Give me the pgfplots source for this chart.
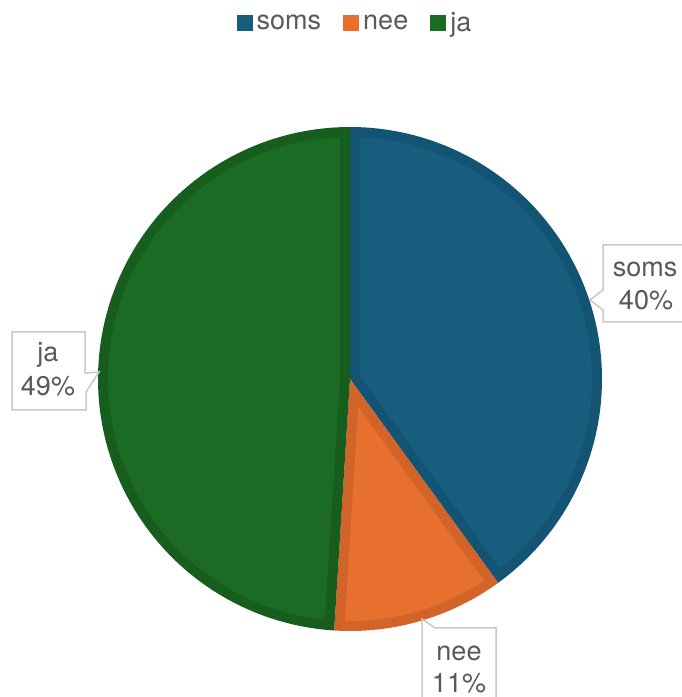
\documentclass[border=0pt]{standalone}
\usepackage{pgfplots}
\pgfplotsset{compat=1.18}
\usepackage{fontspec}
\setmainfont{TeX Gyre Heros}

\definecolor{somsC}{HTML}{175E7E}
\definecolor{somsB}{HTML}{135374}
\definecolor{neeC}{HTML}{E8702F}
\definecolor{neeB}{HTML}{D2642A}
\definecolor{jaC}{HTML}{1C6B24}
\definecolor{jaB}{HTML}{175E1E}
\definecolor{txt}{HTML}{595959}
\definecolor{boxline}{HTML}{C8C8C8}

% pie geometry (pixels of the reference, y measured upwards)
\def\cx{350}
\def\cy{318}
\def\R{252}
\def\w{10}

% shares in percent
\def\psoms{40}
\def\pnee{11}
\def\pja{49}

% one slice: full sector in border colour, inset sector in fill colour
\newcommand{\slice}[4]{%
  \pgfmathsetmacro\sA{#1}\pgfmathsetmacro\sB{#2}%
  \pgfmathsetmacro\sbis{(\sA+\sB)/2}%
  \pgfmathsetmacro\sd{\w/sin((\sA-\sB)/2)}%
  \pgfmathsetmacro\sdl{asin(\w/(\R-\w))}%
  \pgfmathsetmacro\sAi{\sA-\sdl}\pgfmathsetmacro\sBi{\sB+\sdl}%
  \pgfmathsetmacro\spx{\cx+\sd*cos(\sbis)}\pgfmathsetmacro\spy{\cy+\sd*sin(\sbis)}%
  \pgfmathsetmacro\Ri{\R-\w}%
  \edef\temp{%
    \noexpand\addplot[draw=none, fill=#4, domain=\sB:\sA, samples=120, forget plot]
      ({\cx+\R*cos(x)},{\cy+\R*sin(x)}) -- (axis cs:\cx,\cy) -- cycle;
    \noexpand\addplot[draw=none, fill=#3, domain=\sBi:\sAi, samples=120, forget plot]
      ({\cx+\Ri*cos(x)},{\cy+\Ri*sin(x)}) -- (axis cs:\spx,\spy) -- cycle;}%
  \temp}

\begin{document}
\begin{tikzpicture}
\pgfmathsetmacro\aA{90}
\pgfmathsetmacro\aB{\aA-3.6*\psoms}
\pgfmathsetmacro\aC{\aB-3.6*\pnee}
\pgfmathsetmacro\aD{\aC-3.6*\pja}
\begin{axis}[
    x=1pt, y=1pt,
    xmin=0, xmax=681, ymin=0, ymax=697,
    hide axis, clip=false,
    legend columns=-1,
    legend image code/.code={\fill[#1, draw=none] (0pt,-8pt) rectangle (16pt,8pt);},
    legend style={at={(axis cs:356,674)}, anchor=center, draw=none, fill=none,
        font=\fontsize{27}{30}\selectfont, text=txt,
        /tikz/every even column/.append style={column sep=18pt},
        nodes={inner xsep=4pt}},
]
\coordinate (ll) at (rel axis cs:0,0);
\coordinate (ur) at (rel axis cs:1,1);

\slice{\aA}{\aB}{somsC}{somsB}
\slice{\aB}{\aC}{neeC}{neeB}
\slice{\aC}{\aD}{jaC}{jaB}

\addlegendimage{fill=somsC}\addlegendentry{soms}
\addlegendimage{fill=neeC}\addlegendentry{nee}
\addlegendimage{fill=jaC}\addlegendentry{ja}

% callouts
\draw[boxline, line width=1.5pt, fill=white]
  (axis cs:700,452) -- (axis cs:603,452) -- (axis cs:603,407) -- (axis cs:590,397)
  -- (axis cs:603,387) -- (axis cs:603,375) -- (axis cs:700,375);
\draw[boxline, line width=1.5pt, fill=white]
  (axis cs:12,365) -- (axis cs:85,365) -- (axis cs:85,324) -- (axis cs:99,325)
  -- (axis cs:86,305) -- (axis cs:86,287) -- (axis cs:12,287) -- cycle;
\draw[boxline, line width=1.5pt, fill=white]
  (axis cs:422,-10) -- (axis cs:422,78) -- (axis cs:435,69) -- (axis cs:496,69)
  -- (axis cs:496,-10);

\begin{scope}[every node/.style={text=txt, font=\fontsize{27}{30}\selectfont, anchor=base, inner sep=0pt}]
\node at (axis cs:645,420) {soms};
\node at (axis cs:646,387) {\psoms\%};
\node at (axis cs:48,335) {ja};
\node at (axis cs:48,301) {\pja\%};
\node at (axis cs:459,36) {nee};
\node at (axis cs:459,5) {\pnee\%};
\end{scope}
\end{axis}
\pgfresetboundingbox
\useasboundingbox (ll) rectangle (ur);
\end{tikzpicture}
\end{document}
